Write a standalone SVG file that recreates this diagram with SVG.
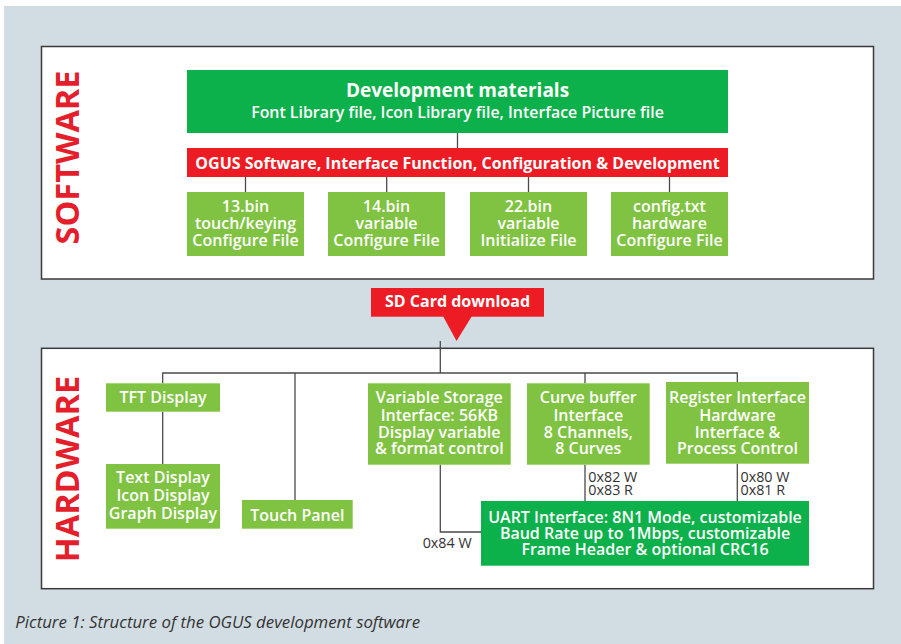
<svg xmlns="http://www.w3.org/2000/svg" width="901" height="644" viewBox="0 0 901 644">
<style>
text{font-family:"Open Sans","Liberation Sans",sans-serif}
.frame{fill:#fff;stroke:#3a3a3a;stroke-width:1.5}
.dg{fill:#0db14b}
.lg{fill:#80c342}
.rd{fill:#ed1c24}
.t{fill:#fff;font-size:16px;font-weight:600;text-anchor:middle}
.tb{fill:#fff;font-weight:700;text-anchor:middle}
.side{fill:#e41e2b;font-size:32.5px;font-weight:700;text-anchor:middle}
.hex{fill:#333;font-size:14.3px}
.ln{fill:none;stroke:#4a4a4a;stroke-width:1.3}
</style>
<rect x="4" y="6" width="897" height="638" fill="#d2dde3"/>
<rect class="frame" x="41.5" y="46.5" width="832" height="232.5"/>
<rect class="frame" x="41.5" y="348.3" width="832" height="240.4"/>
<text class="side" transform="translate(79,157.5) rotate(-90)">SOFTWARE</text>
<text class="side" transform="translate(79,469) rotate(-90)">HARDWARE</text>

<g id="connectors">
<path class="ln" d="M457.5 133V148"/>
<path class="ln" d="M245.5 177V192M386.7 177V192M528.5 177V192M669.5 177V192"/>
<path class="ln" d="M440.3 341V373M162.7 383.3V373H737.3V382M295 373V500M585 373V383.3M162.7 411.7V464"/>
<path class="ln" d="M440.3 464.7V532H481"/>
<path class="ln" d="M585 464.7V501M737.3 463.7V501"/>
</g>

<g id="dev">
<rect class="dg" x="187" y="70" width="541" height="63"/>
<text class="tb" x="457.5" y="97" style="font-size:19px">Development materials</text>
<text class="t" x="457.5" y="118" style="font-size:15.9px">Font Library file, Icon Library file, Interface Picture file</text>
</g>
<g id="ogus">
<rect class="rd" x="187" y="148" width="541" height="29"/>
<text class="tb" x="457.5" y="169" style="font-size:16px">OGUS Software, Interface Function, Configuration &amp; Development</text>
</g>
<g id="f13">
<rect class="lg" x="187" y="192" width="117" height="64"/>
<text class="t" x="245.5" y="212">13.bin</text>
<text class="t" x="245.5" y="229">touch/keying</text>
<text class="t" x="245.5" y="245.7">Configure File</text>
</g>
<g id="f14">
<rect class="lg" x="328" y="192" width="117" height="64"/>
<text class="t" x="386.5" y="212">14.bin</text>
<text class="t" x="386.5" y="229">variable</text>
<text class="t" x="386.5" y="245.7">Configure File</text>
</g>
<g id="f22">
<rect class="lg" x="470" y="192" width="117" height="64"/>
<text class="t" x="528.5" y="212">22.bin</text>
<text class="t" x="528.5" y="229">variable</text>
<text class="t" x="528.5" y="245.7">Initialize File</text>
</g>
<g id="cfg">
<rect class="lg" x="611" y="192" width="117" height="64"/>
<text class="t" x="669.5" y="212">config.txt</text>
<text class="t" x="669.5" y="229">hardware</text>
<text class="t" x="669.5" y="245.7">Configure File</text>
</g>

<g id="sd">
<rect class="rd" x="371" y="288" width="173" height="28.7"/>
<polygon class="rd" points="443,316 472,316 456.5,341"/>
<text class="tb" x="457.5" y="306.7" style="font-size:16px">SD Card download</text>
</g>

<g id="tft">
<rect class="lg" x="106" y="383.3" width="114" height="28.4"/>
<text class="t" x="163" y="403.3">TFT Display</text>
</g>
<g id="disp">
<rect class="lg" x="106" y="464" width="114" height="64.7"/>
<text class="t" x="163" y="483.3">Text Display</text>
<text class="t" x="163" y="501.3">Icon Display</text>
<text class="t" x="163" y="518.7">Graph Display</text>
</g>
<g id="touch">
<rect class="lg" x="242" y="500" width="110.7" height="28.7"/>
<text class="t" x="297.3" y="520.7">Touch Panel</text>
</g>
<g id="varstore">
<rect class="lg" x="368" y="383.3" width="142.7" height="81.4"/>
<text class="t" x="439.3" y="403.3">Variable Storage</text>
<text class="t" x="439.3" y="420.7">Interface: 56KB</text>
<text class="t" x="439.3" y="437.7">Display variable</text>
<text class="t" x="439.3" y="454.3">&amp; format control</text>
</g>
<g id="curve">
<rect class="lg" x="527" y="383.3" width="122.7" height="81.4"/>
<text class="t" x="588.3" y="403.3">Curve buffer</text>
<text class="t" x="588.3" y="420.7">Interface</text>
<text class="t" x="588.3" y="437.7">8 Channels,</text>
<text class="t" x="588.3" y="454.3">8 Curves</text>
</g>
<g id="register">
<rect class="lg" x="666" y="382" width="143" height="81.7"/>
<text class="t" x="737.5" y="403.3">Register Interface</text>
<text class="t" x="737.5" y="420.7">Hardware</text>
<text class="t" x="737.5" y="437.7">Interface &amp;</text>
<text class="t" x="737.5" y="454.3">Process Control</text>
</g>
<g id="uart">
<rect class="dg" x="481" y="501" width="328" height="64.7"/>
<text class="t" x="645" y="522.7">UART Interface: 8N1 Mode, customizable</text>
<text class="t" x="645" y="538.7">Baud Rate up to 1Mbps, customizable</text>
<text class="t" x="645" y="554.7">Frame Header &amp; optional CRC16</text>
</g>
<g id="labels">
<text class="hex" x="422.7" y="547.7">0x84 W</text>
<text class="hex" x="588.3" y="481.7">0x82 W</text>
<text class="hex" x="588.3" y="495">0x83 R</text>
<text class="hex" x="740.5" y="481.7">0x80 W</text>
<text class="hex" x="740.5" y="495">0x81 R</text>
</g>
<text x="15.3" y="628.3" style="fill:#333;font-size:16.8px;font-style:italic">Picture 1: Structure of the OGUS development software</text>
</svg>
